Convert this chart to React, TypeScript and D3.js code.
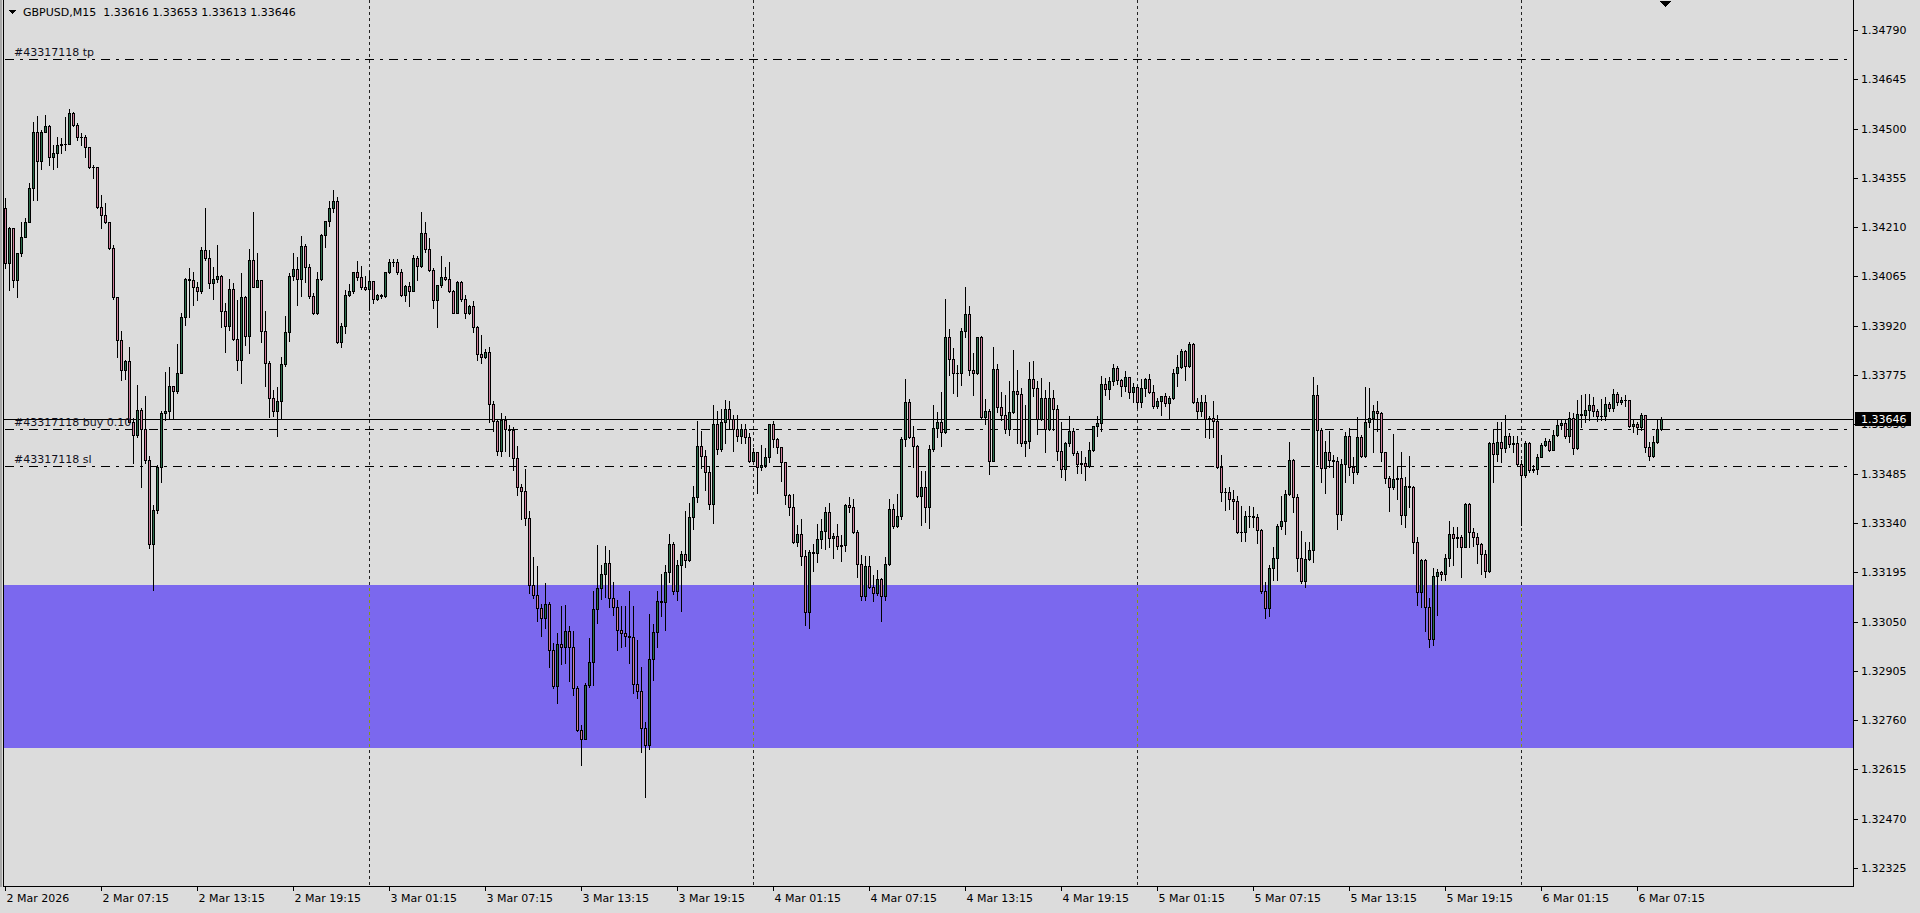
import React, { useEffect } from "react";
import * as d3 from "d3";

// ---- DATA (GBPUSD M15) ----
const firstOpen = 1.34266;
const closes = [
1.34104,1.34207,1.34055,1.34135,1.34182,1.34226,1.34324,1.34489,1.34406,1.34491,
1.34508,1.34415,1.34429,1.34452,1.34455,1.34454,1.34545,1.34511,1.34474,1.34476,
1.34445,1.34388,1.34386,1.34270,1.34246,1.34226,1.34150,1.34004,1.33878,1.33790,
1.33815,1.33638,1.33599,1.33671,1.33617,1.33526,1.33279,1.33377,1.33506,1.33663,
1.33668,1.33744,1.33727,1.33782,1.33945,1.34057,1.34055,1.34035,1.34023,1.34142,
1.34119,1.34047,1.34057,1.34065,1.33962,1.33918,1.34027,1.33880,1.33820,1.34006,
1.33891,1.34113,1.34035,1.34055,1.33906,1.33810,1.33707,1.33670,1.33699,1.33808,
1.33903,1.34066,1.34087,1.34057,1.34155,1.34094,1.34009,1.33959,1.34057,1.34187,
1.34228,1.34265,1.34287,1.33873,1.33919,1.34011,1.34022,1.34077,1.34064,1.34035,
1.34027,1.34052,1.33998,1.34010,1.34008,1.34077,1.34107,1.34109,1.34079,1.34011,
1.34037,1.34021,1.34120,1.34097,1.34192,1.34145,1.34084,1.33996,1.34039,1.34064,
1.34057,1.34022,1.33959,1.34048,1.33998,1.33957,1.33978,1.33915,1.33836,1.33827,
1.33842,1.33689,1.33640,1.33553,1.33643,1.33616,1.33614,1.33532,1.33445,1.33433,
1.33354,1.33156,1.33127,1.33090,1.33060,1.33101,1.32965,1.32859,1.32984,1.32975,
1.33023,1.32975,1.32854,1.32730,1.32705,1.32864,1.32931,1.33087,1.33148,1.33190,
1.33222,1.33119,1.33093,1.33024,1.33016,1.33006,1.33005,1.32866,1.32845,1.32737,
1.32686,1.32940,1.33019,1.33109,1.33106,1.33195,1.33278,1.33139,1.33215,1.33248,
1.33232,1.33357,1.33416,1.33565,1.33538,1.33489,1.33395,1.33631,1.33557,1.33636,
1.33674,1.33645,1.33615,1.33597,1.33615,1.33594,1.33523,1.33550,1.33504,1.33510,
1.33535,1.33630,1.33586,1.33562,1.33518,1.33422,1.33386,1.33283,1.33308,1.33244,
1.33077,1.33254,1.33252,1.33292,1.33317,1.33371,1.33297,1.33303,1.33273,1.33275,
1.33393,1.33388,1.33312,1.33219,1.33124,1.33214,1.33153,1.33135,1.33175,1.33126,
1.33219,1.33381,1.33332,1.33359,1.33586,1.33695,1.33594,1.33565,1.33418,1.33445,
1.33388,1.33557,1.33618,1.33636,1.33607,1.33886,1.33821,1.33782,1.33780,1.33906,
1.33954,1.33790,1.33782,1.33886,1.33651,1.33670,1.33523,1.33792,1.33682,1.33658,
1.33616,1.33667,1.33728,1.33718,1.33576,1.33581,1.33763,1.33736,1.33645,1.33707,
1.33616,1.33707,1.33674,1.33553,1.33498,1.33574,1.33611,1.33547,1.33513,1.33516,
1.33508,1.33555,1.33625,1.33633,1.33748,1.33735,1.33758,1.33795,1.33759,1.33744,
1.33768,1.33726,1.33741,1.33697,1.33736,1.33763,1.33726,1.33684,1.33699,1.33712,
1.33692,1.33707,1.33780,1.33798,1.33846,1.33803,1.33865,1.33697,1.33670,1.33695,
1.33646,1.33648,1.33640,1.33506,1.33432,1.33430,1.33410,1.33406,1.33312,1.33314,
1.33361,1.33359,1.33357,1.33319,1.33141,1.33089,1.33207,1.33236,1.33331,1.33346,
1.33425,1.33525,1.33415,1.33236,1.33168,1.33234,1.33259,1.33717,1.33612,1.33501,
1.33548,1.33525,1.33523,1.33366,1.33513,1.33596,1.33506,1.33491,1.33592,1.33537,
1.33636,1.33648,1.33669,1.33663,1.33548,1.33471,1.33445,1.33469,1.33473,1.33362,
1.33449,1.33445,1.33285,1.33136,1.33231,1.33094,1.32998,1.33185,1.33195,1.33189,
1.33236,1.33306,1.33297,1.33298,1.33270,1.33397,1.33314,1.33299,1.33277,1.33248,
1.33199,1.33574,1.33544,1.33577,1.33559,1.33595,1.33571,1.33574,1.33512,1.33481,
1.33574,1.33495,1.33498,1.33535,1.33569,1.33582,1.33554,1.33598,1.33628,1.33635,
1.33595,1.33650,1.33559,1.33659,1.33657,1.33672,1.33687,1.33669,1.33654,1.33655,
1.33691,1.33677,1.33718,1.33696,1.33701,1.33703,1.33626,1.33630,1.33621,1.33657,
1.33562,1.33538,1.33579,1.33616,1.33646
];
const highs = [
1.34295,1.34210,1.34207,1.34135,1.34226,1.34236,1.34339,1.34520,1.34537,1.34495,
1.34540,1.34511,1.34452,1.34474,1.34471,1.34533,1.34557,1.34550,1.34517,1.34486,
1.34481,1.34447,1.34393,1.34388,1.34305,1.34280,1.34226,1.34158,1.34004,1.33905,
1.33820,1.33858,1.33648,1.33746,1.33678,1.33714,1.33537,1.33393,1.33511,1.33668,
1.33785,1.33798,1.33741,1.33866,1.33957,1.34060,1.34089,1.34079,1.34050,1.34153,
1.34266,1.34143,1.34094,1.34158,1.34070,1.33988,1.34057,1.34045,1.33996,1.34074,
1.34008,1.34146,1.34256,1.34135,1.34055,1.33963,1.33815,1.33731,1.33741,1.33827,
1.33950,1.34074,1.34133,1.34121,1.34184,1.34160,1.34102,1.34015,1.34079,1.34190,
1.34229,1.34287,1.34319,1.34298,1.33927,1.34025,1.34043,1.34079,1.34111,1.34096,
1.34066,1.34082,1.34050,1.34013,1.34013,1.34079,1.34115,1.34115,1.34115,1.34087,
1.34040,1.34048,1.34128,1.34125,1.34256,1.34224,1.34177,1.34089,1.34040,1.34125,
1.34092,1.34108,1.34025,1.34052,1.34052,1.34011,1.33981,1.33994,1.33918,1.33893,
1.33852,1.33857,1.33699,1.33643,1.33663,1.33655,1.33627,1.33621,1.33567,1.33455,
1.33498,1.33376,1.33240,1.33212,1.33101,1.33163,1.33106,1.32987,1.33016,1.33097,
1.33099,1.33038,1.33021,1.32859,1.32747,1.32869,1.33003,1.33141,1.33276,1.33217,
1.33273,1.33261,1.33166,1.33114,1.33095,1.33097,1.33141,1.33097,1.32997,1.32916,
1.32754,1.33072,1.33043,1.33139,1.33190,1.33217,1.33308,1.33283,1.33232,1.33256,
1.33376,1.33398,1.33449,1.33640,1.33609,1.33555,1.33506,1.33687,1.33670,1.33674,
1.33702,1.33699,1.33658,1.33658,1.33631,1.33631,1.33606,1.33560,1.33550,1.33569,
1.33560,1.33631,1.33640,1.33589,1.33562,1.33520,1.33424,1.33425,1.33334,1.33352,
1.33259,1.33259,1.33278,1.33337,1.33351,1.33386,1.33398,1.33310,1.33337,1.33305,
1.33396,1.33416,1.33411,1.33318,1.33246,1.33244,1.33243,1.33187,1.33202,1.33177,
1.33241,1.33411,1.33396,1.33425,1.33592,1.33763,1.33705,1.33626,1.33569,1.33493,
1.33493,1.33569,1.33687,1.33665,1.33724,1.33999,1.33910,1.33854,1.33805,1.33914,
1.34033,1.33978,1.33839,1.33888,1.33890,1.33705,1.33674,1.33857,1.33807,1.33724,
1.33716,1.33758,1.33849,1.33790,1.33736,1.33687,1.33812,1.33816,1.33758,1.33765,
1.33731,1.33754,1.33731,1.33687,1.33636,1.33579,1.33655,1.33618,1.33553,1.33552,
1.33535,1.33577,1.33626,1.33655,1.33772,1.33765,1.33768,1.33808,1.33802,1.33763,
1.33787,1.33770,1.33753,1.33746,1.33763,1.33767,1.33778,1.33746,1.33707,1.33714,
1.33721,1.33712,1.33793,1.33834,1.33851,1.33849,1.33873,1.33870,1.33707,1.33717,
1.33717,1.33655,1.33699,1.33658,1.33540,1.33442,1.33447,1.33437,1.33418,1.33390,
1.33374,1.33391,1.33388,1.33367,1.33322,1.33166,1.33217,1.33268,1.33337,1.33418,
1.33437,1.33579,1.33527,1.33425,1.33317,1.33285,1.33285,1.33770,1.33746,1.33619,
1.33581,1.33611,1.33540,1.33533,1.33527,1.33607,1.33619,1.33535,1.33653,1.33599,
1.33739,1.33736,1.33687,1.33700,1.33667,1.33550,1.33478,1.33601,1.33506,1.33550,
1.33476,1.33537,1.33449,1.33298,1.33233,1.33233,1.33119,1.33207,1.33205,1.33199,
1.33250,1.33346,1.33329,1.33329,1.33304,1.33399,1.33399,1.33324,1.33309,1.33280,
1.33260,1.33579,1.33615,1.33636,1.33638,1.33657,1.33605,1.33595,1.33595,1.33525,
1.33581,1.33579,1.33510,1.33542,1.33576,1.33591,1.33586,1.33613,1.33644,1.33647,
1.33642,1.33667,1.33662,1.33701,1.33716,1.33718,1.33718,1.33711,1.33674,1.33706,
1.33711,1.33696,1.33733,1.33726,1.33711,1.33716,1.33694,1.33642,1.33638,1.33664,
1.33657,1.33579,1.33595,1.33647,1.33653
];
const lows = [
1.34089,1.34025,1.34035,1.34006,1.34125,1.34182,1.34226,1.34290,1.34290,1.34381,
1.34491,1.34393,1.34381,1.34388,1.34427,1.34437,1.34454,1.34508,1.34466,1.34452,
1.34417,1.34383,1.34354,1.34266,1.34207,1.34223,1.34145,1.34000,1.33829,1.33761,
1.33763,1.33636,1.33516,1.33594,1.33447,1.33516,1.33266,1.33143,1.33369,1.33459,
1.33643,1.33648,1.33648,1.33722,1.33780,1.33923,1.33947,1.33981,1.33996,1.34016,
1.34114,1.34030,1.33998,1.34050,1.33916,1.33844,1.33908,1.33878,1.33790,1.33751,
1.33862,1.33841,1.34033,1.34033,1.33873,1.33743,1.33653,1.33655,1.33597,1.33645,
1.33802,1.33876,1.34055,1.33981,1.34008,1.34050,1.34001,1.33955,1.33955,1.34055,
1.34151,1.34213,1.34256,1.33870,1.33859,1.33898,1.34008,1.34015,1.34055,1.34027,
1.34025,1.33966,1.33988,1.33996,1.34001,1.34004,1.34076,1.34096,1.34072,1.34008,
1.33994,1.33978,1.34021,1.34055,1.34094,1.34138,1.34082,1.33971,1.33917,1.34035,
1.34055,1.34020,1.33957,1.33957,1.33994,1.33942,1.33955,1.33903,1.33819,1.33810,
1.33825,1.33638,1.33609,1.33540,1.33537,1.33553,1.33537,1.33496,1.33423,1.33352,
1.33335,1.33134,1.33119,1.33053,1.33006,1.33031,1.32915,1.32854,1.32810,1.32926,
1.32928,1.32874,1.32833,1.32727,1.32627,1.32703,1.32856,1.32864,1.33046,1.33116,
1.33121,1.33092,1.33070,1.32965,1.32974,1.32977,1.32928,1.32840,1.32825,1.32665,
1.32534,1.32675,1.32877,1.32974,1.33065,1.33026,1.33165,1.33131,1.33112,1.33082,
1.33209,1.33227,1.33323,1.33403,1.33501,1.33438,1.33382,1.33340,1.33543,1.33553,
1.33576,1.33615,1.33553,1.33582,1.33576,1.33574,1.33520,1.33525,1.33429,1.33496,
1.33506,1.33520,1.33562,1.33547,1.33462,1.33396,1.33362,1.33282,1.33271,1.33215,
1.33040,1.33032,1.33200,1.33224,1.33266,1.33264,1.33269,1.33238,1.33263,1.33229,
1.33256,1.33371,1.33310,1.33182,1.33112,1.33112,1.33148,1.33109,1.33128,1.33053,
1.33114,1.33217,1.33324,1.33327,1.33351,1.33565,1.33589,1.33506,1.33415,1.33334,
1.33344,1.33326,1.33553,1.33594,1.33565,1.33606,1.33775,1.33723,1.33712,1.33746,
1.33886,1.33775,1.33716,1.33778,1.33648,1.33630,1.33484,1.33523,1.33665,1.33643,
1.33606,1.33599,1.33663,1.33574,1.33567,1.33537,1.33560,1.33712,1.33602,1.33643,
1.33550,1.33614,1.33614,1.33525,1.33476,1.33465,1.33567,1.33540,1.33488,1.33488,
1.33467,1.33506,1.33553,1.33596,1.33609,1.33716,1.33705,1.33746,1.33748,1.33712,
1.33728,1.33707,1.33697,1.33677,1.33680,1.33712,1.33723,1.33677,1.33677,1.33658,
1.33685,1.33645,1.33704,1.33743,1.33795,1.33761,1.33800,1.33692,1.33650,1.33656,
1.33594,1.33589,1.33594,1.33501,1.33405,1.33378,1.33380,1.33352,1.33310,1.33288,
1.33288,1.33329,1.33329,1.33280,1.33135,1.33060,1.33065,1.33171,1.33171,1.33322,
1.33307,1.33423,1.33372,1.33199,1.33163,1.33153,1.33231,1.33224,1.33514,1.33459,
1.33429,1.33506,1.33476,1.33323,1.33349,1.33460,1.33481,1.33457,1.33484,1.33533,
1.33535,1.33621,1.33550,1.33609,1.33523,1.33457,1.33376,1.33440,1.33410,1.33337,
1.33329,1.33388,1.33253,1.33099,1.33094,1.33021,1.32975,1.32982,1.33070,1.33172,
1.33172,1.33213,1.33216,1.33270,1.33180,1.33268,1.33270,1.33272,1.33221,1.33189,
1.33182,1.33197,1.33461,1.33522,1.33520,1.33549,1.33562,1.33549,1.33510,1.33334,
1.33474,1.33491,1.33491,1.33483,1.33535,1.33566,1.33552,1.33554,1.33595,1.33615,
1.33591,1.33579,1.33542,1.33557,1.33621,1.33638,1.33644,1.33654,1.33640,1.33644,
1.33644,1.33670,1.33670,1.33687,1.33691,1.33684,1.33623,1.33608,1.33603,1.33613,
1.33549,1.33525,1.33535,1.33574,1.33613
];

const priceTicks = [
"1.34790","1.34645","1.34500","1.34355","1.34210","1.34065","1.33920","1.33775","1.33630",
"1.33485","1.33340","1.33195","1.33050","1.32905","1.32760","1.32615","1.32470","1.32325"
];
const timeLabels = [
"2 Mar 2026","2 Mar 07:15","2 Mar 13:15","2 Mar 19:15","3 Mar 01:15","3 Mar 07:15",
"3 Mar 13:15","3 Mar 19:15","4 Mar 01:15","4 Mar 07:15","4 Mar 13:15","4 Mar 19:15",
"5 Mar 01:15","5 Mar 07:15","5 Mar 13:15","5 Mar 19:15","6 Mar 01:15","6 Mar 07:15"
];
const timeLabelBars = [0,24,48,72,96,120,144,168,192,216,240,264,288,312,336,360,384,408];
const daySeparatorBars = [91, 187, 283, 379];

const headerSymbol = "GBPUSD,M15";
const headerOHLC = "1.33616 1.33653 1.33613 1.33646";
const bidPrice = 1.33646;
const bidLabel = "1.33646";
const orderLevels = [
  { label: "#43317118 tp", price: 1.34706 },
  { label: "#43317118 buy 0.10", price: 1.33616 },
  { label: "#43317118 sl", price: 1.33507 },
];
const zoneTop = 1.33157;
const zoneBottom = 1.32679;

// ---- LAYOUT ----
const W = 1920, H = 913;
const PLOT_L = 3, PLOT_R = 1853, PLOT_B = 886;
const BG = "#DCDCDC";
const BULL = "#2C6E4C";
const BEAR = "#CF7D9B";
const FONT = "'DejaVu Sans', Verdana, sans-serif";

const y = d3.scaleLinear().domain([1.32325, 1.34790]).range([868, 30]);
const x = d3.scaleLinear().domain([0, 414]).range([5, 1661]);

export default function App() {
  useEffect(() => {
    document.body.style.margin = "0";
    document.body.style.overflow = "hidden";
  }, []);

  const candles = closes.map((c, i) => {
    const o = i === 0 ? firstOpen : closes[i - 1];
    const h = Math.max(highs[i], o, c);
    const l = Math.min(lows[i], o, c);
    const cx = Math.round(x(i));
    const yo = Math.round(y(o)), yc = Math.round(y(c));
    const yh = Math.round(y(h)), yl = Math.round(y(l));
    const top = Math.min(yo, yc), bot = Math.max(yo, yc);
    const fill = c > o ? BULL : BEAR;
    return (
      <g key={i}>
        <rect x={cx} y={yh} width={1} height={yl - yh + 1} fill="#000" />
        <rect x={cx - 1} y={top} width={3} height={bot - top + 1} fill="#000" />
        {bot - top >= 2 && (
          <rect x={cx} y={top + 1} width={1} height={bot - top - 1} fill={fill} />
        )}
      </g>
    );
  });

  const zTop = Math.round(y(zoneTop));
  const zBot = Math.round(y(zoneBottom));
  const bidY = Math.round(y(bidPrice)) + 0.5;
  const boxTop = Math.round(y(bidPrice)) - 7;
  const boxH = 14;

  return (
    <svg
      width={W}
      height={H}
      style={{ position: "absolute", left: 0, top: 0, display: "block" }}
      shapeRendering="crispEdges"
    >
      <defs>
        <clipPath id="belowBidBox">
          <rect x={1840} y={boxTop + boxH} width={80} height={20} />
        </clipPath>
      </defs>
      <rect x={0} y={0} width={W} height={H} fill={BG} />
      {/* window edge */}
      <rect x={0} y={0} width={2} height={PLOT_B + 1} fill="#A8A8A8" />
      <line x1={PLOT_L + 0.5} y1={0} x2={PLOT_L + 0.5} y2={PLOT_B} stroke="#000" />

      {/* zone rectangle */}
      <rect x={PLOT_L + 1} y={zTop} width={PLOT_R - PLOT_L - 1} height={zBot - zTop} fill="#7B68EE" />

      {/* day separators */}
      {daySeparatorBars.map((b) => {
        const sx = Math.round(x(b)) + 0.5;
        return (
          <g key={b}>
            <line x1={sx} y1={0} x2={sx} y2={zTop} stroke="#232323" strokeDasharray="3,3" />
            <line x1={sx} y1={zTop} x2={sx} y2={zBot} stroke="#849711" strokeDasharray="3,3" strokeDashoffset={(zTop) % 6} />
            <line x1={sx} y1={zBot} x2={sx} y2={PLOT_B} stroke="#232323" strokeDasharray="3,3" strokeDashoffset={(zBot) % 6} />
          </g>
        );
      })}

      {/* order levels */}
      {orderLevels.map((lv) => {
        const ly = Math.round(y(lv.price)) + 0.5;
        return (
          <line key={lv.label} x1={5} y1={ly} x2={PLOT_R} y2={ly} stroke="#000" strokeDasharray="9,6,3,6" />
        );
      })}
      {/* bid line */}
      <line x1={PLOT_L + 1} y1={bidY} x2={PLOT_R} y2={bidY} stroke="#000" />

      {/* candles */}
      {candles}

      {/* order labels */}
      {orderLevels.map((lv) => (
        <text key={"t" + lv.label} x={14} y={Math.round(y(lv.price)) - 3} fontFamily={FONT} fontSize={11} fill="#101020">
          {lv.label}
        </text>
      ))}

      {/* header */}
      <polygon points="9,10 16,10 12.5,14" fill="#000" />
      <text x={23} y={16} fontFamily={FONT} fontSize={11} fill="#000" style={{ whiteSpace: "pre" }}>
        {headerSymbol + "  " + headerOHLC}
      </text>
      {/* chart shift marker */}
      <polygon points="1660,1 1671,1 1665.5,7" fill="#000" />

      {/* plot borders */}
      <line x1={PLOT_R + 0.5} y1={0} x2={PLOT_R + 0.5} y2={PLOT_B + 1} stroke="#000" />
      <line x1={PLOT_L} y1={PLOT_B + 0.5} x2={PLOT_R + 1} y2={PLOT_B + 0.5} stroke="#000" />

      {/* price axis */}
      {priceTicks.map((t) => {
        const ty = Math.round(y(+t)) + 0.5;
        const hidden = Math.abs(+t - bidPrice) < 0.0003;
        return (
          <g key={t}>
            <line x1={PLOT_R + 1} y1={ty} x2={PLOT_R + 5} y2={ty} stroke="#000" />
            <text
              x={1861}
              y={ty}
              dy="0.36em"
              fontFamily={FONT}
              fontSize={11}
              fill="#000"
              clipPath={hidden ? "url(#belowBidBox)" : undefined}
            >
              {t}
            </text>
          </g>
        );
      })}
      <rect x={1855} y={boxTop} width={56} height={boxH} fill="#000" />
      <text x={1861} y={bidY} dy="0.36em" fontFamily={FONT} fontSize={11} fill="#fff">
        {bidLabel}
      </text>

      {/* time axis */}
      {timeLabels.map((t, k) => {
        const tx = Math.round(x(timeLabelBars[k])) + 0.5;
        return (
          <g key={t}>
            <line x1={tx} y1={PLOT_B + 1} x2={tx} y2={PLOT_B + 5} stroke="#000" />
            <text x={tx + 1} y={902} fontFamily={FONT} fontSize={11} fill="#000">
              {t}
            </text>
          </g>
        );
      })}
    </svg>
  );
}
